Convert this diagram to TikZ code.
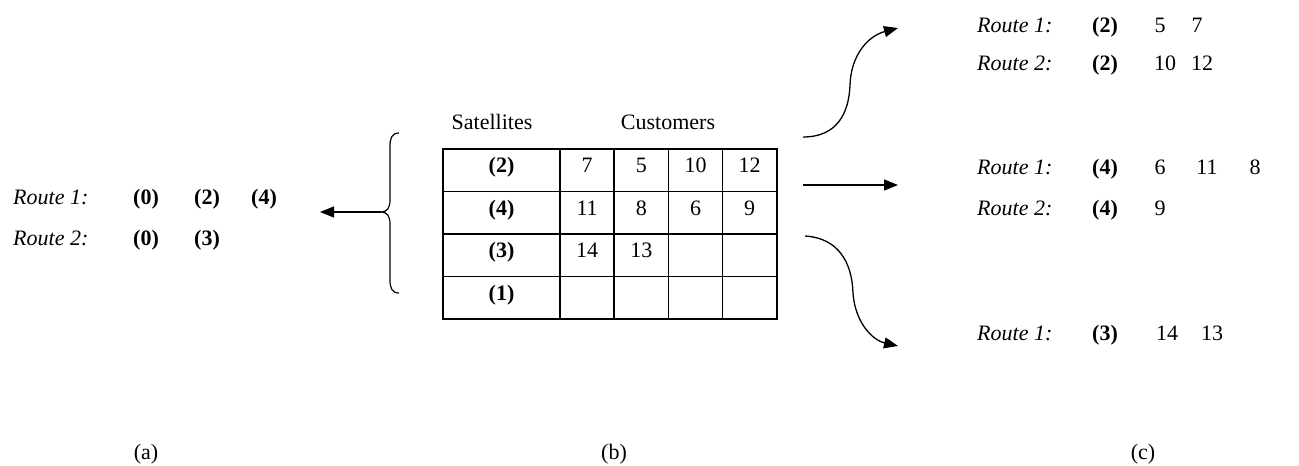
\documentclass[tikz,border=0pt]{standalone}
\usepackage{fontspec}
\setmainfont{Liberation Serif}
\usetikzlibrary{arrows.meta}
\begin{document}
\begin{tikzpicture}[x=1pt,y=-1pt,
  every node/.style={inner sep=0pt, font=\fontsize{22}{24}\selectfont},
  lbl/.style={anchor=base west, font=\fontsize{22}{24}\selectfont\itshape},
  num/.style={anchor=base},
  bnum/.style={anchor=base, font=\fontsize{22}{24}\selectfont\bfseries},
  cell/.style={draw, line width=1.7pt, minimum height=42.5pt, text height=16pt, text depth=11pt},
  wide/.style={cell, minimum width=117pt, font=\fontsize{22}{24}\selectfont\bfseries},
  narrow/.style={cell, minimum width=54.2pt},
  conn/.style={line width=1.3pt, -{Triangle[length=14pt,width=11pt]}},
]
\useasboundingbox (0,0) rectangle (1299,466);

% ---- (b) table ----
\node[wide]   (r1c0) at (501.5,170.25) {(2)};
\node[narrow] (r1c1) at (587.1,170.25) {7};
\node[narrow] (r1c2) at (641.3,170.25) {5};
\node[narrow] (r1c3) at (695.5,170.25) {10};
\node[narrow] (r1c4) at (749.7,170.25) {12};
\node[wide]   (r2c0) at (501.5,212.75) {(4)};
\node[narrow] (r2c1) at (587.1,212.75) {11};
\node[narrow] (r2c2) at (641.3,212.75) {8};
\node[narrow] (r2c3) at (695.5,212.75) {6};
\node[narrow] (r2c4) at (749.7,212.75) {9};
\node[wide]   (r3c0) at (501.5,255.25) {(3)};
\node[narrow] (r3c1) at (587.1,255.25) {14};
\node[narrow] (r3c2) at (641.3,255.25) {13};
\node[narrow] (r3c3) at (695.5,255.25) {};
\node[narrow] (r3c4) at (749.7,255.25) {};
\node[wide]   (r4c0) at (501.5,297.75) {(1)};
\node[narrow] (r4c1) at (587.1,297.75) {};
\node[narrow] (r4c2) at (641.3,297.75) {};
\node[narrow] (r4c3) at (695.5,297.75) {};
\node[narrow] (r4c4) at (749.7,297.75) {};

\node[num] (sat) at (492,129) {Satellites};
\node[num] (cus) at (668,129) {Customers};

% brace
\coordinate (btip) at (381,212);
\draw[line width=1.2pt] (399,133) .. controls (392,133) and (390,138) .. (390,146)
  -- (390,200) .. controls (390,208) and (387,212) .. (btip)
  .. controls (387,212) and (390,216) .. (390,224)
  -- (390,280) .. controls (390,288) and (392,293) .. (399,293);

% ---- (a) ----
\coordinate (aend) at (320,212);
\draw[conn] (btip) -- (aend);
\node[lbl]  (a1l) at (13,204.5) {Route 1:};
\node[bnum] (a10) at (146,204.5) {(0)};
\node[bnum] (a12) at (207,204.5) {(2)};
\node[bnum] (a14) at (264,204.5) {(4)};
\node[lbl]  (a2l) at (13,245.5) {Route 2:};
\node[bnum] (a20) at (146,245.5) {(0)};
\node[bnum] (a23) at (207,245.5) {(3)};

% ---- connectors to (c) ----
\coordinate (t0) at (803,137);
\coordinate (t1) at (898,28);
\draw[conn] (t0) .. controls (838,137) and (849,112) .. (850,85)
  .. controls (851,55) and (868,36) .. (t1);
\coordinate (m0) at (803,185);
\coordinate (m1) at (898,185);
\draw[conn] (m0) -- (m1);
\coordinate (b0) at (805,236);
\coordinate (b1) at (898,346);
\draw[conn] (b0) .. controls (838,238) and (852,262) .. (853,293)
  .. controls (855,322) and (872,340) .. (b1);

% ---- (c) ----
\node[lbl]  (c1l) at (977,32) {Route 1:};
\node[bnum] (c1s) at (1105,32) {(2)};
\node[num]  (c1a) at (1160,32) {5};
\node[num]  (c1b) at (1197,32) {7};
\node[lbl]  (c2l) at (977,70) {Route 2:};
\node[bnum] (c2s) at (1105,70) {(2)};
\node[num]  (c2a) at (1165,70) {10};
\node[num]  (c2b) at (1202,70) {12};

\node[lbl]  (c3l) at (977,174) {Route 1:};
\node[bnum] (c3s) at (1105,174) {(4)};
\node[num]  (c3a) at (1160,174) {6};
\node[num]  (c3b) at (1207,174) {11};
\node[num]  (c3c) at (1255,174) {8};
\node[lbl]  (c4l) at (977,215) {Route 2:};
\node[bnum] (c4s) at (1105,215) {(4)};
\node[num]  (c4a) at (1160,215) {9};

\node[lbl]  (c5l) at (977,340) {Route 1:};
\node[bnum] (c5s) at (1105,340) {(3)};
\node[num]  (c5a) at (1167,340) {14};
\node[num]  (c5b) at (1212,340) {13};

% ---- captions ----
\node[num] (capa) at (146,459) {(a)};
\node[num] (capb) at (614,459) {(b)};
\node[num] (capc) at (1143,459) {(c)};
\end{tikzpicture}
\end{document}
